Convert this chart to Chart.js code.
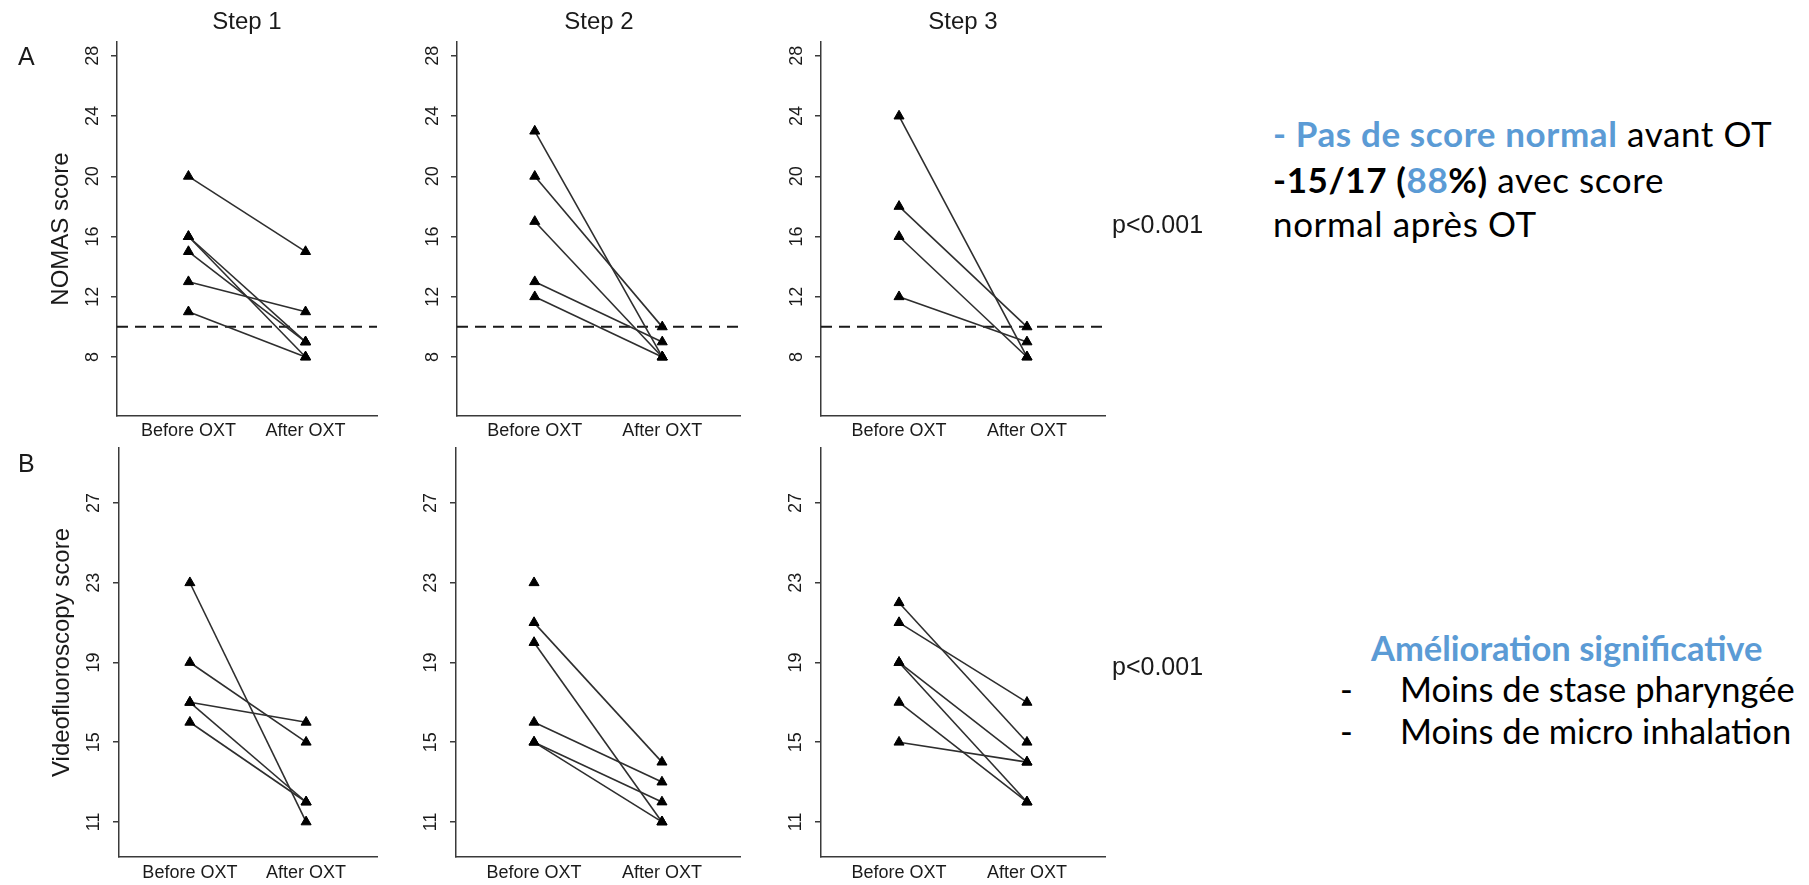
<!DOCTYPE html>
<html>
<head>
<meta charset="utf-8">
<script src="https://cdn.jsdelivr.net/npm/chart.js@4/dist/chart.umd.min.js"></script>
<style>
  html, body { margin: 0; padding: 0; background: #fff; }
  body { width: 1809px; height: 885px; position: relative; overflow: hidden; }
  canvas { position: absolute; }
  .t { position: absolute; white-space: nowrap; line-height: 1; }
  .arial { font-family: "Liberation Sans", Arial, sans-serif; color: #1a1a1a; }
  .cal { font-family: Lato, "Open Sans", sans-serif; color: #000; }
  .blue { color: #5B9BD5; }
  b { font-weight: 700; }
</style>
</head>
<body>
<script>
// ---------------- DATA ----------------
const categories = ['Before OXT', 'After OXT'];
const stepTitles = ['Step 1', 'Step 2', 'Step 3'];
const rowLetters = ['A', 'B'];
const yTitles = ['NOMAS score', 'Videofluoroscopy score'];
const nomasTicks = [8, 12, 16, 20, 24, 28];
const videoTicks = [11, 15, 19, 23, 27];
const nomasCutoff = 10;
const pValues = ['p<0.001', 'p<0.001'];

// NOMAS score (row A), one entry per patient
const nomasStep1Before = [20, 16, 16, 15, 13, 11];
const nomasStep1After  = [15,  9,  8,  9, 11,  8];
const nomasStep2Before = [23, 20, 17, 13, 12];
const nomasStep2After  = [ 8, 10,  8,  9,  8];
const nomasStep3Before = [24, 18, 16, 12];
const nomasStep3After  = [ 8, 10,  8,  9];

// Videofluoroscopy score (row B)
const videoStep1Before = [23, 19, 17, 17, 16];
const videoStep1After  = [11, 15, 16, 12, 12];
const videoStep2Before = [23, 21, 20, 16, 15, 15];
const videoStep2After  = [null, 14, 11, 13, 12, 11];
const videoStep3Before = [22, 21, 19, 19, 17, 15];
const videoStep3After  = [15, 17, 14, 12, 12, 14];

// ---------------- LAYOUT ----------------
const FONT = '"Liberation Sans", Arial, sans-serif';
const rows = [
  { top: 42, height: 374, yMin: 4.08, yMax: 28.92, ticks: nomasTicks, cutoff: nomasCutoff,
    series: [[nomasStep1Before, nomasStep1After], [nomasStep2Before, nomasStep2After], [nomasStep3Before, nomasStep3After]],
    axisLeft: [117, 457, 821] },
  { top: 448, height: 409, yMin: 9.24, yMax: 29.76, ticks: videoTicks, cutoff: null,
    series: [[videoStep1Before, videoStep1After], [videoStep2Before, videoStep2After], [videoStep3Before, videoStep3After]],
    axisLeft: [119, 456, 821] }
];
const colCanvasLeft = [0, 382, 746];
const colAxisRight = [377, 740, 1105];
const X_MIN = 0.39, X_MAX = 2.61;
const PAD_TOP = 30, PAD_RIGHT = 10, XAXIS_H = 26;

rows.forEach((row, r) => {
  row.series.forEach((pair, c) => {
    const [before, after] = pair;
    const canvas = document.createElement('canvas');
    const cLeft = colCanvasLeft[c];
    const wY = row.axisLeft[c] - cLeft;
    const width = colAxisRight[c] + PAD_RIGHT - cLeft;
    const height = PAD_TOP + row.height + XAXIS_H;
    canvas.width = width; canvas.height = height;
    canvas.style.left = cLeft + 'px';
    canvas.style.top = (row.top - PAD_TOP) + 'px';
    canvas.style.width = width + 'px';
    canvas.style.height = height + 'px';
    document.body.appendChild(canvas);

    const datasets = [];
    before.forEach((b, i) => {
      const pts = [{ x: 1, y: b }];
      if (after[i] !== null && after[i] !== undefined) pts.push({ x: 2, y: after[i] });
      datasets.push({
        data: pts, showLine: true, borderColor: '#2e2e2e', borderWidth: 1.6,
        pointStyle: 'triangle', pointRadius: 5.8, pointBackgroundColor: '#000',
        pointBorderColor: '#000', pointBorderWidth: 1, pointHoverRadius: 5.8
      });
    });
    if (row.cutoff !== null) {
      datasets.push({
        data: [{ x: X_MIN, y: row.cutoff }, { x: X_MAX, y: row.cutoff }],
        showLine: true, borderColor: '#1a1a1a', borderWidth: 2, borderDash: [11, 7],
        pointRadius: 0, pointHoverRadius: 0
      });
    }

    new Chart(canvas, {
      type: 'scatter',
      data: { datasets },
      options: {
        responsive: false, animation: false, devicePixelRatio: 1,
        events: [],
        layout: { padding: { left: 0, right: PAD_RIGHT, top: PAD_TOP, bottom: 0 } },
        plugins: { legend: { display: false }, tooltip: { enabled: false }, title: { display: false } },
        scales: {
          x: {
            type: 'linear', min: X_MIN, max: X_MAX,
            afterBuildTicks: s => { s.ticks = [{ value: 1 }, { value: 2 }]; },
            afterFit: s => { s.height = XAXIS_H; },
            ticks: {
              callback: v => categories[Math.round(v) - 1],
              font: { size: 18, family: FONT }, color: '#1a1a1a',
              padding: r === 0 ? 4 : 5, maxRotation: 0, minRotation: 0, autoSkip: false
            },
            grid: { display: false, drawTicks: false },
            border: { display: true, color: '#3a3a3a', width: 1.5 }
          },
          y: {
            type: 'linear', min: row.yMin, max: row.yMax,
            afterBuildTicks: s => { s.ticks = row.ticks.map(v => ({ value: v })); },
            afterFit: s => { s.width = wY; },
            ticks: {
              minRotation: 90, maxRotation: 90, crossAlign: 'center',
              padding: r === 0 ? 8 : 9,
              font: { size: 18, family: FONT }, color: '#1a1a1a'
            },
            grid: { display: true, drawOnChartArea: false, drawTicks: true, tickLength: 6, color: '#3a3a3a', lineWidth: 1.5 },
            border: { display: true, color: '#3a3a3a', width: 1.5 },
            title: {
              display: c === 0, text: yTitles[r],
              font: { size: 24, family: FONT }, color: '#1a1a1a',
              padding: { top: r === 0 ? 47 : 48, bottom: 0 }
            }
          }
        }
      }
    });
  });
});

// ---------------- TEXT ----------------
function addText(html, x, baseline, size, cls, k, align, spacing) {
  const d = document.createElement('div');
  d.className = 't ' + cls;
  d.style.fontSize = size + 'px';
  d.style.top = (baseline - k * size) + 'px';
  d.style.left = x + 'px';
  if (align === 'center') d.style.transform = 'translateX(-50%)';
  if (spacing) d.style.letterSpacing = spacing + 'px';
  d.innerHTML = html;
  document.body.appendChild(d);
  return d;
}
const KA = 0.8465; // Liberation Sans baseline offset for line-height 1
const KL = 0.887;  // Lato baseline offset for line-height 1

const stepCenters = [247, 599, 963];
stepTitles.forEach((s, i) => addText(s, stepCenters[i], 29, 24, 'arial', KA, 'center'));
addText(rowLetters[0], 18, 65, 25, 'arial', KA);
addText(rowLetters[1], 18, 472, 25, 'arial', KA);
addText(pValues[0], 1112, 233, 25, 'arial', KA);
addText(pValues[1], 1112, 675, 25, 'arial', KA);

addText('<b class="blue">- Pas de score normal</b> avant OT', 1273, 147, 35, 'cal', KL, null, 0.6);
addText('<b>-15/17 (<span class="blue">88</span>%)</b> avec score', 1273, 193, 35, 'cal', KL, null, 0.6);
addText('normal après OT', 1273, 237, 35, 'cal', KL, null, 0.6);

addText('<b class="blue">Amélioration significative</b>', 1371, 662, 34.5, 'cal', KL);
addText('-', 1340, 703, 34.5, 'cal', KL);
addText('Moins de stase pharyngée', 1400, 703, 34.5, 'cal', KL);
addText('-', 1340, 745, 34.5, 'cal', KL);
addText('Moins de micro inhalation', 1400, 745, 34.5, 'cal', KL);
</script>
</body>
</html>
